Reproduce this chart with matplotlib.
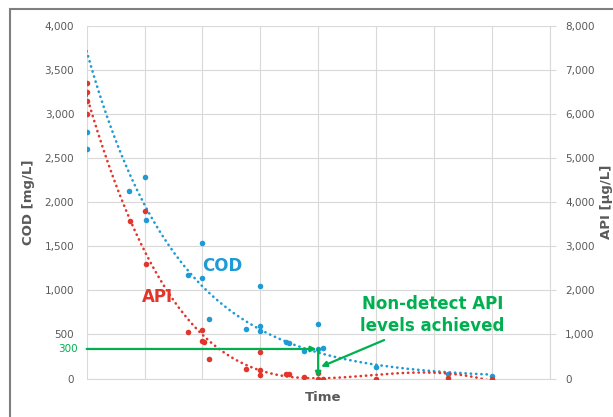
import numpy as np
import matplotlib
matplotlib.use("Agg")
import matplotlib.pyplot as plt
from matplotlib.patches import Rectangle
from matplotlib.ticker import FuncFormatter

# ----- data -----
cod_x = [0, 0, 0.73, 1.0, 1.03, 1.75, 2.0, 2.0, 2.11, 2.75, 3.0, 3.0, 3.0,
         3.45, 3.5, 3.75, 4.0, 4.0, 4.09, 5.0, 6.25, 7.0]
cod_y = [2800, 2600, 2130, 2285, 1795, 1170, 1540, 1135, 670, 560, 1050, 590, 540,
         410, 400, 310, 615, 335, 345, 135, 50, 30]

api_x = [0, 0, 0, 0, 0.74, 1.0, 1.03, 1.75, 2.0, 2.0, 2.03, 2.12, 2.75, 3.0, 3.0, 3.0,
         3.45, 3.5, 3.75, 4.0, 4.0, 4.09, 5.0, 6.25, 7.0]
api_y = [6700, 6500, 6300, 6000, 3580, 3805, 2595, 1055, 1100, 860, 820, 435, 220, 610, 200, 80,
         110, 95, 25, 120, 0, 0, 0, 15, 0]

cod_ticks = list(range(0, 4001, 500))
api_ticks = list(range(0, 8001, 1000))

BLUE = "#1E9BD7"
RED = "#E2362C"
GREEN = "#00B050"
GRAY = "#595959"
GRID = "#D9D9D9"

fig = plt.figure(figsize=(6.13, 4.17), dpi=100)
ax = fig.add_axes([0.1414, 0.0923, 0.7553, 0.8461])
ax2 = ax.twinx()

# trendlines like Excel: exponential for COD, polynomial for API
xt = np.linspace(0, 7, 300)
b, ln_a = np.polyfit(cod_x, np.log(cod_y), 1)
cod_trend = np.exp(ln_a) * np.exp(b * xt)
api_trend = np.polyval(np.polyfit(api_x, api_y, 4), xt)

dot = dict(linewidth=1.9, dashes=(0.1, 1.9), dash_capstyle="round")
ax.plot(xt, cod_trend, color=BLUE, zorder=2, **dot)
ax.scatter(cod_x, cod_y, s=16, color=BLUE, zorder=3, linewidths=0)
ax2.plot(xt, api_trend, color=RED, zorder=2, **dot)
ax2.scatter(api_x, api_y, s=16, color=RED, zorder=3, linewidths=0)

# axes
ax.set_xlim(0, 8)
ax.set_ylim(0, 4000)
ax2.set_ylim(0, 8000)
ax.set_xticks(range(0, 9))
ax.set_xticklabels([])
ax.set_yticks(cod_ticks)
ax2.set_yticks(api_ticks)
fmt = FuncFormatter(lambda v, p: f"{int(v):,}")
ax.yaxis.set_major_formatter(fmt)
ax2.yaxis.set_major_formatter(fmt)
ax.grid(True, color=GRID, linewidth=0.8)
ax.set_axisbelow(True)
ax.tick_params(axis="both", length=0, labelsize=7.5, labelcolor=GRAY, pad=9)
ax2.tick_params(axis="y", length=4, color=GRID, labelsize=7.5, labelcolor=GRAY, pad=7)
for a in (ax, ax2):
    for s in a.spines.values():
        s.set_visible(False)
ax2.spines["right"].set_visible(True)
ax2.spines["right"].set_color(GRID)
ax2.spines["bottom"].set_visible(True)
ax2.spines["bottom"].set_color(GRID)

ax.set_xlabel("Time", fontsize=9.5, fontweight="bold", color=GRAY, labelpad=2)
ax.xaxis.set_label_coords(0.51, -0.035)
ax.set_ylabel("COD [mg/L]", fontsize=9.5, fontweight="bold", color=GRAY, labelpad=7)
ax2.set_ylabel("API [μg/L]", fontsize=9.5, fontweight="bold", color=GRAY, labelpad=4,
               rotation=90)

# series labels
ax2.text(2.34, 1276 * 2, "COD", color=BLUE, fontsize=12, fontweight="bold",
         ha="center", va="center", zorder=1)
ax2.text(1.23, 924 * 2, "API", color=RED, fontsize=12, fontweight="bold",
         ha="center", va="center", zorder=1)

# green annotations (in COD units)
arr = dict(arrowstyle="-|>", color=GREEN, lw=1.6, mutation_scale=8, shrinkA=0, shrinkB=0)
ax2.annotate("", xy=(3.97, 335), xytext=(0, 335), xycoords=ax.transData,
             textcoords=ax.transData, arrowprops=arr, zorder=5)
ax2.annotate("", xy=(4.0, 10), xytext=(4.0, 335), xycoords=ax.transData,
             textcoords=ax.transData, arrowprops=arr, zorder=5)
ax2.annotate("", xy=(4.05, 134), xytext=(5.14, 436), xycoords=ax.transData,
             textcoords=ax.transData, arrowprops=arr, zorder=5)
ax2.text(5.97, 720 * 2, "Non-detect API\nlevels achieved", color=GREEN, fontsize=12,
         fontweight="bold", ha="center", va="center", linespacing=1.3)
ax.text(-0.02, 335, "300", transform=ax.get_yaxis_transform(), color=GREEN,
        fontsize=7.5, ha="right", va="center")

# outer frame (chart border, cropped on right/bottom)
fig.add_artist(Rectangle((10 / 613, -0.2), 2, 1.2 - 9 / 417, transform=fig.transFigure,
                         fill=False, edgecolor="#7F7F7F", linewidth=1.5, clip_on=False))

fig.savefig("out.png", dpi=100)
